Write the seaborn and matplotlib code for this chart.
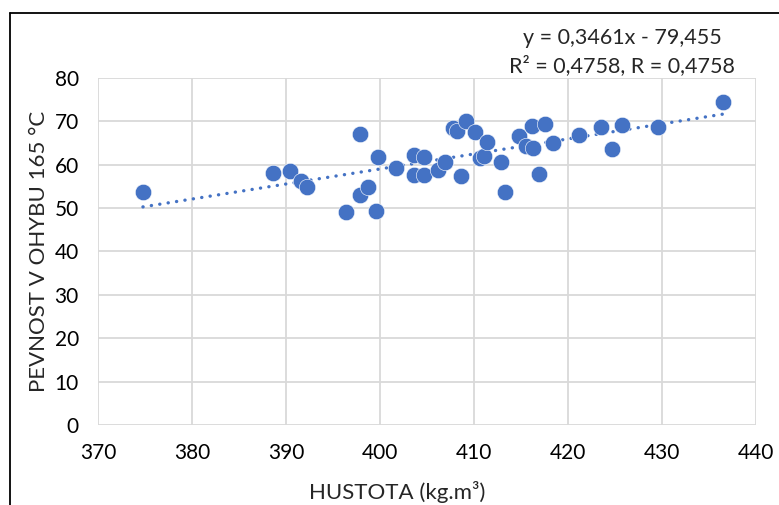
import numpy as np
import pandas as pd
import matplotlib
matplotlib.use("Agg")
import matplotlib.pyplot as plt
from matplotlib.lines import Line2D
import seaborn as sns

# ---- data ----
hustota = [374.75, 388.55, 390.4, 391.6, 392.2, 396.35, 397.8, 397.9, 398.7, 399.6,
           399.8, 401.7, 403.55, 403.6, 404.7, 404.7, 406.1, 406.95, 407.8, 408.2,
           408.65, 409.1, 410.1, 410.6, 411.0, 411.4, 412.9, 413.3, 414.8, 415.5,
           416.2, 416.3, 416.9, 417.5, 418.4, 421.2, 423.55, 424.7, 425.7, 429.6,
           436.5]
pevnost = [53.6, 58.1, 58.6, 56.2, 54.8, 49.0, 53.0, 67.0, 54.8, 49.3,
           61.8, 59.2, 62.2, 57.6, 61.7, 57.5, 58.7, 60.7, 68.4, 67.7,
           57.4, 70.1, 67.5, 61.5, 62.0, 65.1, 60.6, 53.7, 66.5, 64.3,
           68.8, 63.7, 57.9, 69.3, 65.0, 66.7, 68.6, 63.6, 69.2, 68.7,
           74.5]
slope = 0.3461
intercept = -79.455
eq_text = "y = 0,3461x - 79,455"
r_text = "R² = 0,4758, R = 0,4758"
x_ticks = [370, 380, 390, 400, 410, 420, 430, 440]
y_ticks = [0, 10, 20, 30, 40, 50, 60, 70, 80]
x_label = "HUSTOTA (kg.m³)"
y_label = "PEVNOST V OHYBU 165 °C"

sns.set_style("white")
plt.rcParams['font.family'] = ['Lato', 'DejaVu Sans']

df = pd.DataFrame({"x": hustota, "y": pevnost})
xs = np.array([min(hustota), max(hustota)])
trend = pd.DataFrame({"x": xs, "y": slope * xs + intercept})

fig = plt.figure(figsize=(7.79, 5.05), dpi=100)
ax = fig.add_axes([0.1262, 0.1584, 0.8443, 0.6877])

blue = "#4472C4"
ax.plot(trend["x"], trend["y"], color=blue, lw=2.4,
        linestyle=(0, (0.05, 2.5)), dash_capstyle="round", zorder=2)
sns.scatterplot(data=df, x="x", y="y", ax=ax, color=blue, s=140,
                edgecolor="white", linewidth=0.4, zorder=3, legend=False)

ax.set_xlim(370, 440)
ax.set_ylim(0, 80)
ax.set_xticks(x_ticks)
ax.set_yticks(y_ticks)
ax.grid(True, color="#D9D9D9", lw=1.3)
ax.set_axisbelow(True)
for s in ax.spines.values():
    s.set_visible(False)
ax.tick_params(axis="both", length=0, labelsize=15, colors="#000000")
ax.tick_params(axis="x", pad=13)
ax.tick_params(axis="y", pad=14)
ax.set_xlabel(x_label, fontsize=16)
ax.xaxis.set_label_coords(0.454, -0.16)
ax.set_ylabel(y_label, fontsize=16, labelpad=4)

fig.text(622 / 779, 1 - 38 / 505, eq_text, ha="center", va="center", fontsize=15.5)
fig.text(622 / 779, 1 - 66 / 505, r_text, ha="center", va="center", fontsize=15.5)

# frame lines (top and left border)
fig.add_artist(Line2D([10 / 779, 10 / 779], [0, 1 - 13 / 505], color="black", lw=1.3))
fig.add_artist(Line2D([10 / 779, 1], [1 - 13 / 505, 1 - 13 / 505], color="black", lw=1.3))

fig.savefig("out.png", dpi=100)
